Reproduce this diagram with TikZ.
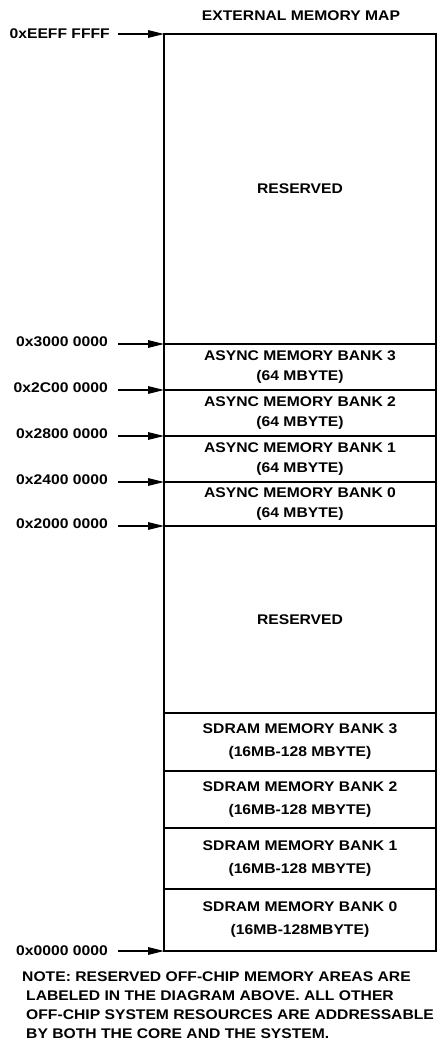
\documentclass[tikz,border=0pt]{standalone}
\usepackage{fontspec}
\setmainfont{Liberation Sans}[FakeStretch=1.12]
\usetikzlibrary{arrows.meta}
\begin{document}
\begin{tikzpicture}[x=1pt,y=-1pt,
  blk/.style={draw, line width=1.9pt, rectangle, inner sep=0pt, outer sep=0pt,
    minimum width=272pt, anchor=north west, align=center,
    font=\bfseries\fontsize{14}{20}\selectfont},
  sdblk/.style={blk, font=\bfseries\fontsize{14}{23}\selectfont},
  addr/.style={anchor=east, inner sep=0pt, font=\bfseries\fontsize{14}{17}\selectfont},
  arr/.style={line width=1.4pt, -{Triangle[length=16pt,width=7.5pt]}},
  txt/.style={inner sep=0pt, font=\bfseries\fontsize{14}{19}\selectfont},
]
\useasboundingbox (0,0) rectangle (438,1047);

\node[txt] (title) at (301,16) {EXTERNAL MEMORY MAP};

% memory blocks
\node[blk, minimum height=310pt] (res1) at (164,34) {RESERVED};
\node[blk, minimum height=46pt] (as3) at (164,344) {ASYNC MEMORY BANK 3\\(64 MBYTE)};
\node[blk, minimum height=46pt] (as2) at (164,390) {ASYNC MEMORY BANK 2\\(64 MBYTE)};
\node[blk, minimum height=46pt] (as1) at (164,436) {ASYNC MEMORY BANK 1\\(64 MBYTE)};
\node[blk, minimum height=44pt] (as0) at (164,482) {ASYNC MEMORY BANK 0\\(64 MBYTE)};
\node[blk, minimum height=187pt] (res2) at (164,526) {RESERVED};
\node[sdblk, minimum height=58pt] (sd3) at (164,713) {SDRAM MEMORY BANK 3\\(16MB-128 MBYTE)};
\node[sdblk, minimum height=57pt] (sd2) at (164,771) {SDRAM MEMORY BANK 2\\(16MB-128 MBYTE)};
\node[sdblk, minimum height=61pt] (sd1) at (164,828) {SDRAM MEMORY BANK 1\\(16MB-128 MBYTE)};
\node[sdblk, minimum height=62pt] (sd0) at (164,889) {SDRAM MEMORY BANK 0\\(16MB-128MBYTE)};

% address labels
\node[addr] (aEEFF) at (110,34) {0xEEFF FFFF};
\node[addr] (a3000) at (108,342) {0x3000 0000};
\node[addr] (a2C00) at (108,388) {0x2C00 0000};
\node[addr] (a2800) at (108,434) {0x2800 0000};
\node[addr] (a2400) at (108,480) {0x2400 0000};
\node[addr] (a2000) at (108,524) {0x2000 0000};
\node[addr] (a0000) at (108,951) {0x0000 0000};

% arrows
\draw[arr] (aEEFF.east) ++(8,0) -- (res1.north west);
\draw[arr] (a3000.east) ++(10,2) -- (as3.north west);
\draw[arr] (a2C00.east) ++(10,2) -- (as2.north west);
\draw[arr] (a2800.east) ++(10,2) -- (as1.north west);
\draw[arr] (a2400.east) ++(10,2) -- (as0.north west);
\draw[arr] (a2000.east) ++(10,2) -- (res2.north west);
\draw[arr] (a0000.east) ++(10,0) -- (sd0.south west);

% note
\node[txt, anchor=north west, align=left] (note) at (22,972)
  {NOTE: RESERVED OFF-CHIP MEMORY AREAS ARE\\
   \hspace*{4pt}LABELED IN THE DIAGRAM ABOVE. ALL OTHER\\
   \hspace*{4pt}OFF-CHIP SYSTEM RESOURCES ARE ADDRESSABLE\\
   \hspace*{4pt}BY BOTH THE CORE AND THE SYSTEM.};
\end{tikzpicture}
\end{document}
